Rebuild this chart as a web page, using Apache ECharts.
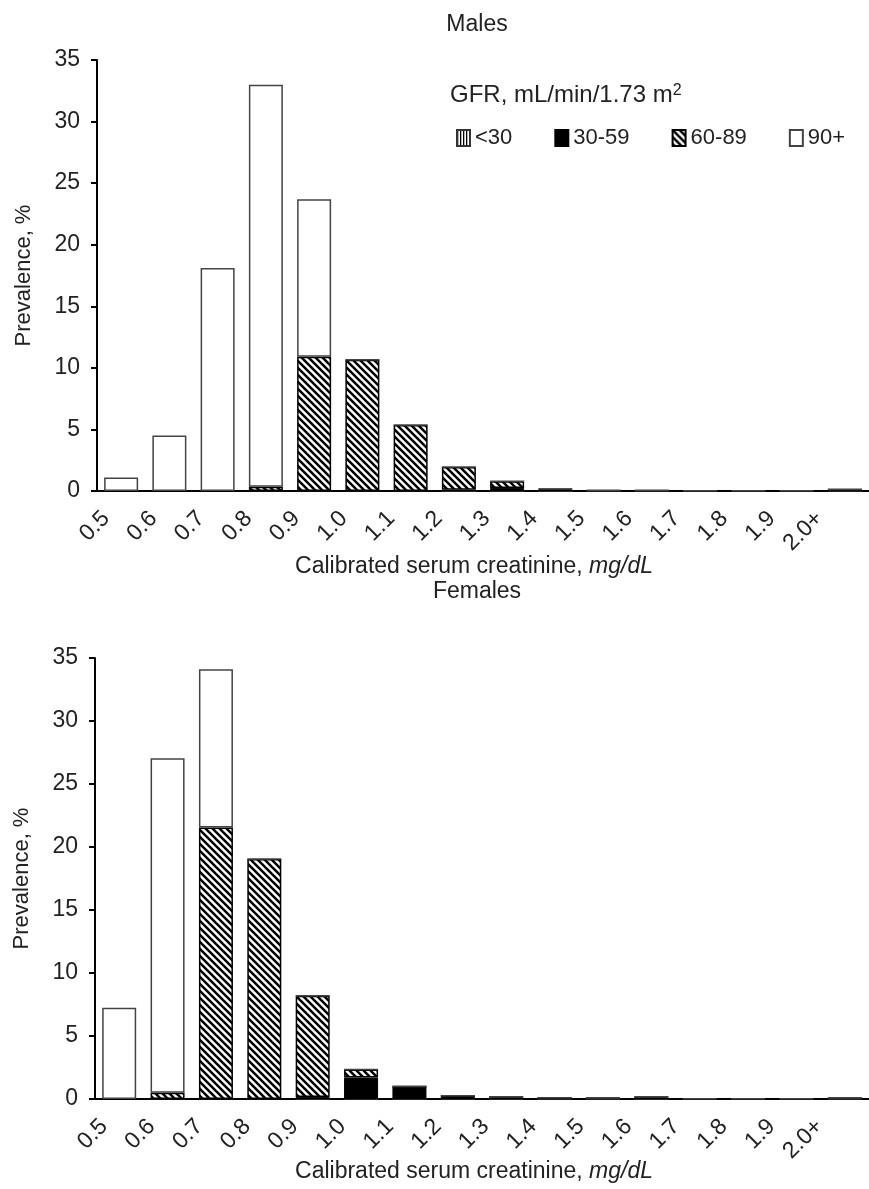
<!DOCTYPE html>
<html>
<head>
<meta charset="utf-8">
<script src="https://cdn.jsdelivr.net/npm/echarts@6/dist/echarts.min.js"></script>
<style>
  html, body { margin: 0; padding: 0; background: #fff; }
  #chart { width: 869px; height: 1189px; }
</style>
</head>
<body>
<div id="chart"></div>
<script>
// creatinine bins, each label is the left edge of its bar
const bins = ['0.5', '0.6', '0.7', '0.8', '0.9', '1.0', '1.1', '1.2', '1.3', '1.4', '1.5', '1.6', '1.7', '1.8', '1.9', '2.0+'];
const groups = ['<30', '30-59', '60-89', '90+'];

// prevalence, % (stacked from bottom: <30, 30-59, 60-89, 90+)
const maleLt30  = [0, 0, 0, 0, 0, 0, 0, 0, 0, 0, 0, 0, 0, 0, 0, 0.02];
const male3059  = [0, 0, 0, 0, 0, 0, 0, 0.1, 0.25, 0.12, 0.05, 0.04, 0.03, 0.03, 0.03, 0.1];
const male6089  = [0, 0, 0, 0.35, 10.9, 10.65, 5.35, 1.85, 0.55, 0.05, 0, 0, 0, 0, 0, 0];
const male90    = [1.1, 4.5, 18.1, 32.65, 12.8, 0, 0, 0, 0, 0, 0, 0, 0, 0, 0, 0];

const femLt30   = [0, 0, 0, 0, 0, 0, 0, 0, 0, 0, 0, 0, 0, 0, 0, 0.01];
const fem3059   = [0, 0, 0, 0, 0.15, 1.7, 1.0, 0.25, 0.15, 0.1, 0.07, 0.15, 0.02, 0.02, 0.02, 0.06];
const fem6089   = [0, 0.5, 21.55, 19.05, 8.05, 0.65, 0, 0, 0, 0, 0, 0, 0, 0, 0, 0];
const fem90     = [7.25, 26.55, 12.55, 0, 0, 0, 0, 0, 0, 0, 0, 0, 0, 0, 0, 0];

const font = 'Liberation Sans, Arial, Helvetica, sans-serif';
const ink = '#222';

function tile(draw, w, h) {
  const c = document.createElement('canvas');
  c.width = w; c.height = h;
  const g = c.getContext('2d');
  g.fillStyle = '#fff';
  g.fillRect(0, 0, w, h);
  draw(g);
  return c;
}

// "\" hatching for 60-89
const hatch = tile(g => {
  g.strokeStyle = '#000';
  g.lineWidth = 2.5;
  [-7, 0, 7].forEach(k => {
    g.beginPath();
    g.moveTo(k - 1, -1);
    g.lineTo(k + 8, 8);
    g.stroke();
  });
}, 7, 7);

// vertical stripes for <30
const stripes = tile(g => {
  g.fillStyle = '#000';
  g.fillRect(0, 0, 1.3, 3);
}, 3, 3);

const styles = {
  '<30':   { color: { image: stripes, repeat: 'repeat' }, borderColor: '#333', borderWidth: 1 },
  '30-59': { color: '#000', borderColor: '#000', borderWidth: 1 },
  '60-89': { color: { image: hatch, repeat: 'repeat' }, borderColor: '#000', borderWidth: 1.5 },
  '90+':   { color: '#fff', borderColor: '#444', borderWidth: 1.5 }
};

const edges = bins.concat(['']);

function panelAxes(gi, left, top, height) {
  const x = [
    {
      gridIndex: gi, type: 'category', data: bins, boundaryGap: true,
      axisLine: { lineStyle: { color: '#000', width: 2 } },
      axisTick: { length: 7, lineStyle: { color: '#000', width: 2 } },
      axisLabel: { show: false }
    },
    {
      gridIndex: gi + 1, type: 'category', data: edges, boundaryGap: false,
      axisLine: { show: false }, axisTick: { show: false },
      axisLabel: { interval: 0, rotate: 45, margin: 24, fontSize: 23, color: ink, fontFamily: font }
    }
  ];
  const y = [
    {
      gridIndex: gi, type: 'value', min: 0, max: 35, interval: 5,
      name: 'Prevalence, %', nameLocation: 'middle', nameGap: 62,
      nameTextStyle: { fontSize: 22, color: ink, fontFamily: font },
      axisLine: { show: true, lineStyle: { color: '#000', width: 2 } },
      axisTick: { show: true, length: 6, lineStyle: { color: '#000', width: 2 } },
      axisLabel: { fontSize: 23, color: ink, margin: 17, fontFamily: font },
      splitLine: { show: false }
    },
    { gridIndex: gi + 1, type: 'value', min: 0, max: 35, show: false }
  ];
  const g = [
    { left: left, right: 869 - left - 778, top: top, height: height },
    { left: left + 9, right: 869 - left - 9 - 778, top: top, height: height }
  ];
  return { x, y, g };
}

const m = panelAxes(0, 97, 60, 431);
const f = panelAxes(2, 95, 658, 441);

function series(name, data, axis, stack) {
  return {
    name, type: 'bar', stack, data,
    xAxisIndex: axis, yAxisIndex: axis,
    barWidth: 34,
    itemStyle: styles[name],
    emphasis: { disabled: true }
  };
}

const maleSets = [maleLt30, male3059, male6089, male90];
const femSets = [femLt30, fem3059, fem6089, fem90];

function axisTitle(y) {
  return {
    type: 'text', x: 474, y: y,
    style: {
      text: 'Calibrated serum creatinine, {i|mg/dL}', align: 'center', verticalAlign: 'middle',
      fontSize: 23, fill: ink, fontFamily: font,
      rich: { i: { fontStyle: 'italic', fontSize: 23, fill: ink, fontFamily: font } }
    }
  };
}

const option = {
  animation: false,
  textStyle: { fontFamily: font },
  grid: m.g.concat(f.g),
  xAxis: m.x.concat(f.x),
  yAxis: m.y.concat(f.y),
  legend: {
    data: groups, left: 451, top: 122, icon: 'rect',
    itemWidth: 13, itemHeight: 16, itemGap: 42,
    selectedMode: false,
    textStyle: { fontSize: 22, color: ink, fontFamily: font }
  },
  graphic: [
    { type: 'text', x: 477, y: 25, style: { text: 'Males', align: 'center', verticalAlign: 'middle', fontSize: 23, fill: ink, fontFamily: font } },
    { type: 'text', x: 477, y: 592, style: { text: 'Females', align: 'center', verticalAlign: 'middle', fontSize: 23, fill: ink, fontFamily: font } },
    {
      type: 'text', x: 450, y: 95,
      style: {
        text: 'GFR, mL/min/1.73 m{sup|2}', verticalAlign: 'middle', fontSize: 24, fill: ink, fontFamily: font,
        rich: { sup: { fontSize: 16, verticalAlign: 'top', fill: ink, fontFamily: font } }
      }
    },
    axisTitle(567),
    axisTitle(1172)
  ],
  series: groups.map((g, i) => series(g, maleSets[i], 0, 'male'))
    .concat(groups.map((g, i) => series(g, femSets[i], 2, 'female')))
};

const chart = echarts.init(document.getElementById('chart'));
chart.setOption(option);
</script>
</body>
</html>
